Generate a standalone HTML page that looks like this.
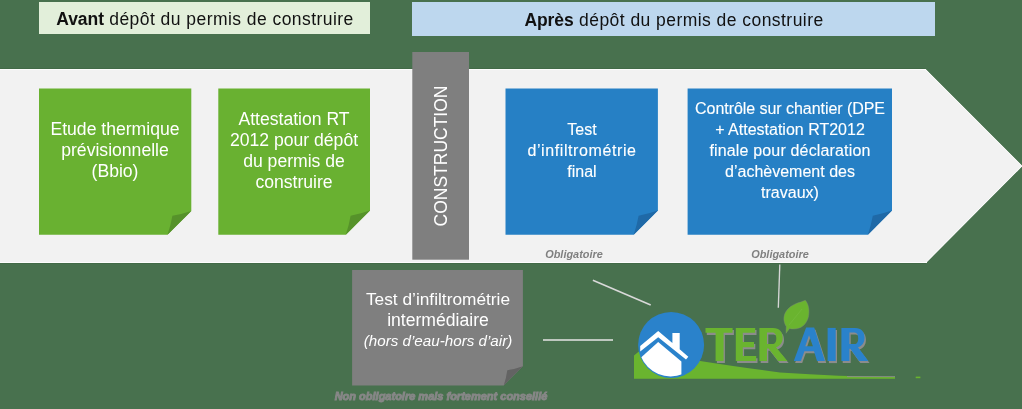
<!DOCTYPE html>
<html><head><meta charset="utf-8"><style>
html,body{margin:0;padding:0;}
body{width:1022px;height:409px;background:#48714e;position:relative;overflow:hidden;font-family:"Liberation Sans",sans-serif;}
.t{position:absolute;text-align:center;white-space:nowrap;will-change:transform;}
svg{position:absolute;left:0;top:0;}
.hb{position:absolute;}
</style></head><body>
<div class="hb" style="left:39px;top:2px;width:331px;height:32px;background:#e2efda"></div>
<div class="hb" style="left:412px;top:2px;width:523px;height:34px;background:#bdd7ee"></div>
<svg width="1022" height="409" viewBox="0 0 1022 409">
<line x1="0" y1="68.5" x2="925.6" y2="68.5" stroke="#426a47" stroke-width="1"/><line x1="0" y1="263.5" x2="926" y2="263.5" stroke="#426a47" stroke-width="1"/><polygon points="0,69 925.6,69 1022.6,166 926,263 0,263" fill="#f2f2f2"/><line x1="0" y1="69.5" x2="926" y2="69.5" stroke="#fdfdfd" stroke-width="1"/><line x1="0" y1="262.5" x2="927" y2="262.5" stroke="#fdfdfd" stroke-width="1"/><polyline points="925.4,69.5 1021.8,166 925.8,262.5" fill="none" stroke="#fafafa" stroke-width="0.9"/><rect x="412.3" y="52" width="56.7" height="207.7" fill="#7f7f7f"/><polygon points="39,88.6 191.3,88.6 191.3,210.89999999999998 167.5,234.7 39,234.7" fill="#69b131"/><path d="M191.3,210.89999999999998 Q181.9,214.1 172.4,215.7 Q170.8,225.2 167.5,234.7 Z" fill="#56922a"/><polygon points="218.3,88.6 370,88.6 370,210.5 345.8,234.7 218.3,234.7" fill="#69b131"/><path d="M370,210.5 Q360.3,213.9 350.6,215.7 Q349.0,225.2 345.8,234.7 Z" fill="#56922a"/><polygon points="505.5,88.6 657.9,88.6 657.9,210.5 633.6999999999999,234.7 505.5,234.7" fill="#2680c5"/><path d="M657.9,210.5 Q648.2,213.9 638.6,215.7 Q636.9,225.2 633.6999999999999,234.7 Z" fill="#1f69a7"/><polygon points="687.6,88.6 892,88.6 892,210.6 867.9,234.7 687.6,234.7" fill="#2680c5"/><path d="M892,210.6 Q882.4,213.9 872.8,215.7 Q871.1,225.2 867.9,234.7 Z" fill="#1f69a7"/><polygon points="352.1,270.1 522.9,270.1 522.9,366.2 503.7,385.4 352.1,385.4" fill="#7f7f7f"/><path d="M522.9,366.2 Q515.1,369.0 507.3,370.2 Q506.3,377.8 503.7,385.4 Z" fill="#636363"/><line x1="592.9" y1="280.3" x2="650.7" y2="305" stroke="#d9d9d9" stroke-width="1.6"/><line x1="543" y1="340" x2="613" y2="340" stroke="#e6e6e6" stroke-width="1.6"/><line x1="779.8" y1="264.5" x2="778.3" y2="307.8" stroke="#d6d6d6" stroke-width="1.35"/>
</svg>
<div class="t" style="left:4.60px;top:11.19px;width:400px;font-size:17.5px;line-height:17.5px;color:#111;letter-spacing:0.45px;"><b style="letter-spacing:-0.05px">Avant</b> dépôt du permis de construire</div>
<div class="t" style="left:473.60px;top:12.49px;width:400px;font-size:17.5px;line-height:17.5px;color:#111;letter-spacing:0.45px;"><b style="letter-spacing:-0.05px">Après</b> dépôt du permis de construire</div>
<div class="t" style="left:-84.80px;top:121.30px;width:400px;font-size:17.6px;line-height:17.6px;color:#fff;letter-spacing:0px;">Etude thermique</div>
<div class="t" style="left:-84.80px;top:142.35px;width:400px;font-size:17.6px;line-height:17.6px;color:#fff;letter-spacing:0px;">prévisionnelle</div>
<div class="t" style="left:-84.80px;top:163.40px;width:400px;font-size:17.6px;line-height:17.6px;color:#fff;letter-spacing:0px;">(Bbio)</div>
<div class="t" style="left:94.20px;top:110.90px;width:400px;font-size:17.6px;line-height:17.6px;color:#fff;letter-spacing:0px;">Attestation RT</div>
<div class="t" style="left:94.20px;top:131.83px;width:400px;font-size:17.6px;line-height:17.6px;color:#fff;letter-spacing:0px;">2012 pour dépôt</div>
<div class="t" style="left:94.20px;top:152.76px;width:400px;font-size:17.6px;line-height:17.6px;color:#fff;letter-spacing:0px;">du permis de</div>
<div class="t" style="left:94.20px;top:173.69px;width:400px;font-size:17.6px;line-height:17.6px;color:#fff;letter-spacing:0px;">construire</div>
<div class="t" style="left:381.60px;top:122.26px;width:400px;font-size:16px;line-height:16px;color:#fff;letter-spacing:0px;-webkit-text-stroke:0.12px #fff">Test</div>
<div class="t" style="left:381.60px;top:143.26px;width:400px;font-size:16px;line-height:16px;color:#fff;letter-spacing:0.6px;-webkit-text-stroke:0.12px #fff">d’infiltrométrie</div>
<div class="t" style="left:381.60px;top:164.26px;width:400px;font-size:16px;line-height:16px;color:#fff;letter-spacing:0px;-webkit-text-stroke:0.12px #fff">final</div>
<div class="t" style="left:589.80px;top:101.26px;width:400px;font-size:16px;line-height:16px;color:#fff;letter-spacing:-0.05px;-webkit-text-stroke:0.12px #fff">Contrôle sur chantier (DPE</div>
<div class="t" style="left:589.80px;top:122.21px;width:400px;font-size:16px;line-height:16px;color:#fff;letter-spacing:0px;-webkit-text-stroke:0.12px #fff">+ Attestation RT2012</div>
<div class="t" style="left:589.80px;top:143.16px;width:400px;font-size:16px;line-height:16px;color:#fff;letter-spacing:0.16px;-webkit-text-stroke:0.12px #fff">finale pour déclaration</div>
<div class="t" style="left:589.80px;top:164.11px;width:400px;font-size:16px;line-height:16px;color:#fff;letter-spacing:0px;-webkit-text-stroke:0.12px #fff">d’achèvement des</div>
<div class="t" style="left:589.80px;top:185.06px;width:400px;font-size:16px;line-height:16px;color:#fff;letter-spacing:0px;-webkit-text-stroke:0.12px #fff">travaux)</div>
<div class="t" style="left:238.00px;top:290.96px;width:400px;font-size:17.3px;line-height:17.3px;color:#fff;letter-spacing:0px;">Test d’infiltrométrie</div>
<div class="t" style="left:237.60px;top:311.80px;width:400px;font-size:17.6px;line-height:17.6px;color:#fff;letter-spacing:0px;">intermédiaire</div>
<div class="t" style="left:237.90px;top:332.63px;width:400px;font-size:15.2px;line-height:15.2px;color:#fff;letter-spacing:0px;font-style:italic">(hors d’eau-hors d’air)</div>
<div class="t" style="left:374.40px;top:248.87px;width:400px;font-size:10.9px;line-height:10.9px;color:#808080;letter-spacing:0px;font-weight:bold;font-style:italic">Obligatoire</div>
<div class="t" style="left:579.80px;top:248.87px;width:400px;font-size:10.9px;line-height:10.9px;color:#808080;letter-spacing:0px;font-weight:bold;font-style:italic">Obligatoire</div>
<div class="t" style="left:240.50px;top:391.19px;width:400px;font-size:11px;line-height:11px;color:#878787;letter-spacing:0px;font-weight:bold;font-style:italic;-webkit-text-stroke:0.9px #878787">Non obligatoire mais fortement conseillé</div>

<div class="t" style="left:440.7px;top:156.3px;width:0;height:0;"><div style="position:absolute;left:-100px;top:-10px;width:200px;height:20px;line-height:20px;font-size:17.5px;color:#fff;text-align:center;transform:rotate(-90deg);">CONSTRUCTION</div></div>

<svg width="1022" height="409" viewBox="0 0 1022 409">
<path d="M634,355.6 L640,350.5 Q700,362 780,372.5 Q840,376.6 895,377 L895,378.7 L634,378.8 Z" fill="#6ab42f"/><line x1="847" y1="376.6" x2="895" y2="376.6" stroke="#8c8c8c" stroke-width="0.9"/><rect x="915.7" y="376.6" width="4.7" height="1.6" fill="#6ab42f"/><circle cx="671.1" cy="344.9" r="33" fill="#2a82cb"/><clipPath id="cc"><circle cx="670.6" cy="344.3" r="32.1"/></clipPath><g clip-path="url(#cc)"><path d="M658.2,342 L636,362 L636,380 L681.4,380 L681.4,361.5 Z" fill="#fff"/></g><path d="M640.2,346.1 L658.2,331 L672.4,343 L672.4,332.9 L679.7,332.9 L679.7,349.2 L688.3,356.7 L686,359.6 L658.2,337.3 L640.2,351.5 Z" fill="#fff"/><path d="M786,333.3 L786.2,326.5 C783,321.5 783.2,315.5 786.3,311 C789.8,306 795.5,303.4 800.8,302 L805.3,300.3 C808.6,304 809.6,310 808.7,315.5 C807.8,321 804.6,326 799.2,328.1 C795.2,329.4 791.2,329.1 789.6,328.4 Z" fill="#6ab42f" stroke="#7d8a7a" stroke-width="0.4"/><path d="M789,325 L802,309" stroke="#74ba3c" stroke-width="0.8"/>
</svg>
<svg width="1022" height="409" viewBox="0 0 1022 409"><path d="M705.5,327.9 H732.6 V332.8 H723.6 V361 H715.6 V332.8 H705.5 Z" fill="#8c8c8c" fill-rule="evenodd" transform="translate(1.3,2.1)"/><path d="M735.8,327.9 H755.2 V332.8 H742.8 V341.9 H754 V347.2 H742.8 V356.1 H756.2 V361 H735.8 Z" fill="#8c8c8c" fill-rule="evenodd" transform="translate(1.3,2.1)"/><path d="M759.4,327.9 H773 C779.5,327.9 782.7,331.8 782.7,337.8 C782.7,342.8 780,346 776,347.3 L787.4,361 H778.2 L768.6,348.6 H767 V361 H759.4 Z M767,332.4 H772.3 C775,332.4 776.3,334.6 776.3,338.2 C776.3,341.8 775,344 772.3,344 H767 Z" fill="#8c8c8c" fill-rule="evenodd" transform="translate(1.3,2.1)"/><path d="M793.8,361 L806.1,327.6 H814.2 L825,361 H817 L814,351.2 H804.4 L800.9,361 Z M809,335.2 L812.9,346.2 H805.3 Z" fill="#8c8c8c" fill-rule="evenodd" transform="translate(1.3,2.1)"/><path d="M827.6,327.9 H835.7 V361 H827.6 Z" fill="#8c8c8c" fill-rule="evenodd" transform="translate(1.3,2.1)"/><path d="M841.4,327.9 H855.2 C861.5,327.9 864.6,331.8 864.6,337.8 C864.6,342.8 862,346 858,347.3 L868.3,361 H859 L850.3,348.8 H849.4 V361 H841.4 Z M849.4,332.4 H854.4 C857,332.4 858.2,334.6 858.2,338.2 C858.2,341.8 857,344 854.4,344 H849.4 Z" fill="#8c8c8c" fill-rule="evenodd" transform="translate(1.3,2.1)"/><path d="M705.5,327.9 H732.6 V332.8 H723.6 V361 H715.6 V332.8 H705.5 Z" fill="#6ab42f" fill-rule="evenodd"/><path d="M735.8,327.9 H755.2 V332.8 H742.8 V341.9 H754 V347.2 H742.8 V356.1 H756.2 V361 H735.8 Z" fill="#6ab42f" fill-rule="evenodd"/><path d="M759.4,327.9 H773 C779.5,327.9 782.7,331.8 782.7,337.8 C782.7,342.8 780,346 776,347.3 L787.4,361 H778.2 L768.6,348.6 H767 V361 H759.4 Z M767,332.4 H772.3 C775,332.4 776.3,334.6 776.3,338.2 C776.3,341.8 775,344 772.3,344 H767 Z" fill="#6ab42f" fill-rule="evenodd"/><path d="M793.8,361 L806.1,327.6 H814.2 L825,361 H817 L814,351.2 H804.4 L800.9,361 Z M809,335.2 L812.9,346.2 H805.3 Z" fill="#2a82cb" fill-rule="evenodd"/><path d="M827.6,327.9 H835.7 V361 H827.6 Z" fill="#2a82cb" fill-rule="evenodd"/><path d="M841.4,327.9 H855.2 C861.5,327.9 864.6,331.8 864.6,337.8 C864.6,342.8 862,346 858,347.3 L868.3,361 H859 L850.3,348.8 H849.4 V361 H841.4 Z M849.4,332.4 H854.4 C857,332.4 858.2,334.6 858.2,338.2 C858.2,341.8 857,344 854.4,344 H849.4 Z" fill="#2a82cb" fill-rule="evenodd"/></svg>
</body></html>
